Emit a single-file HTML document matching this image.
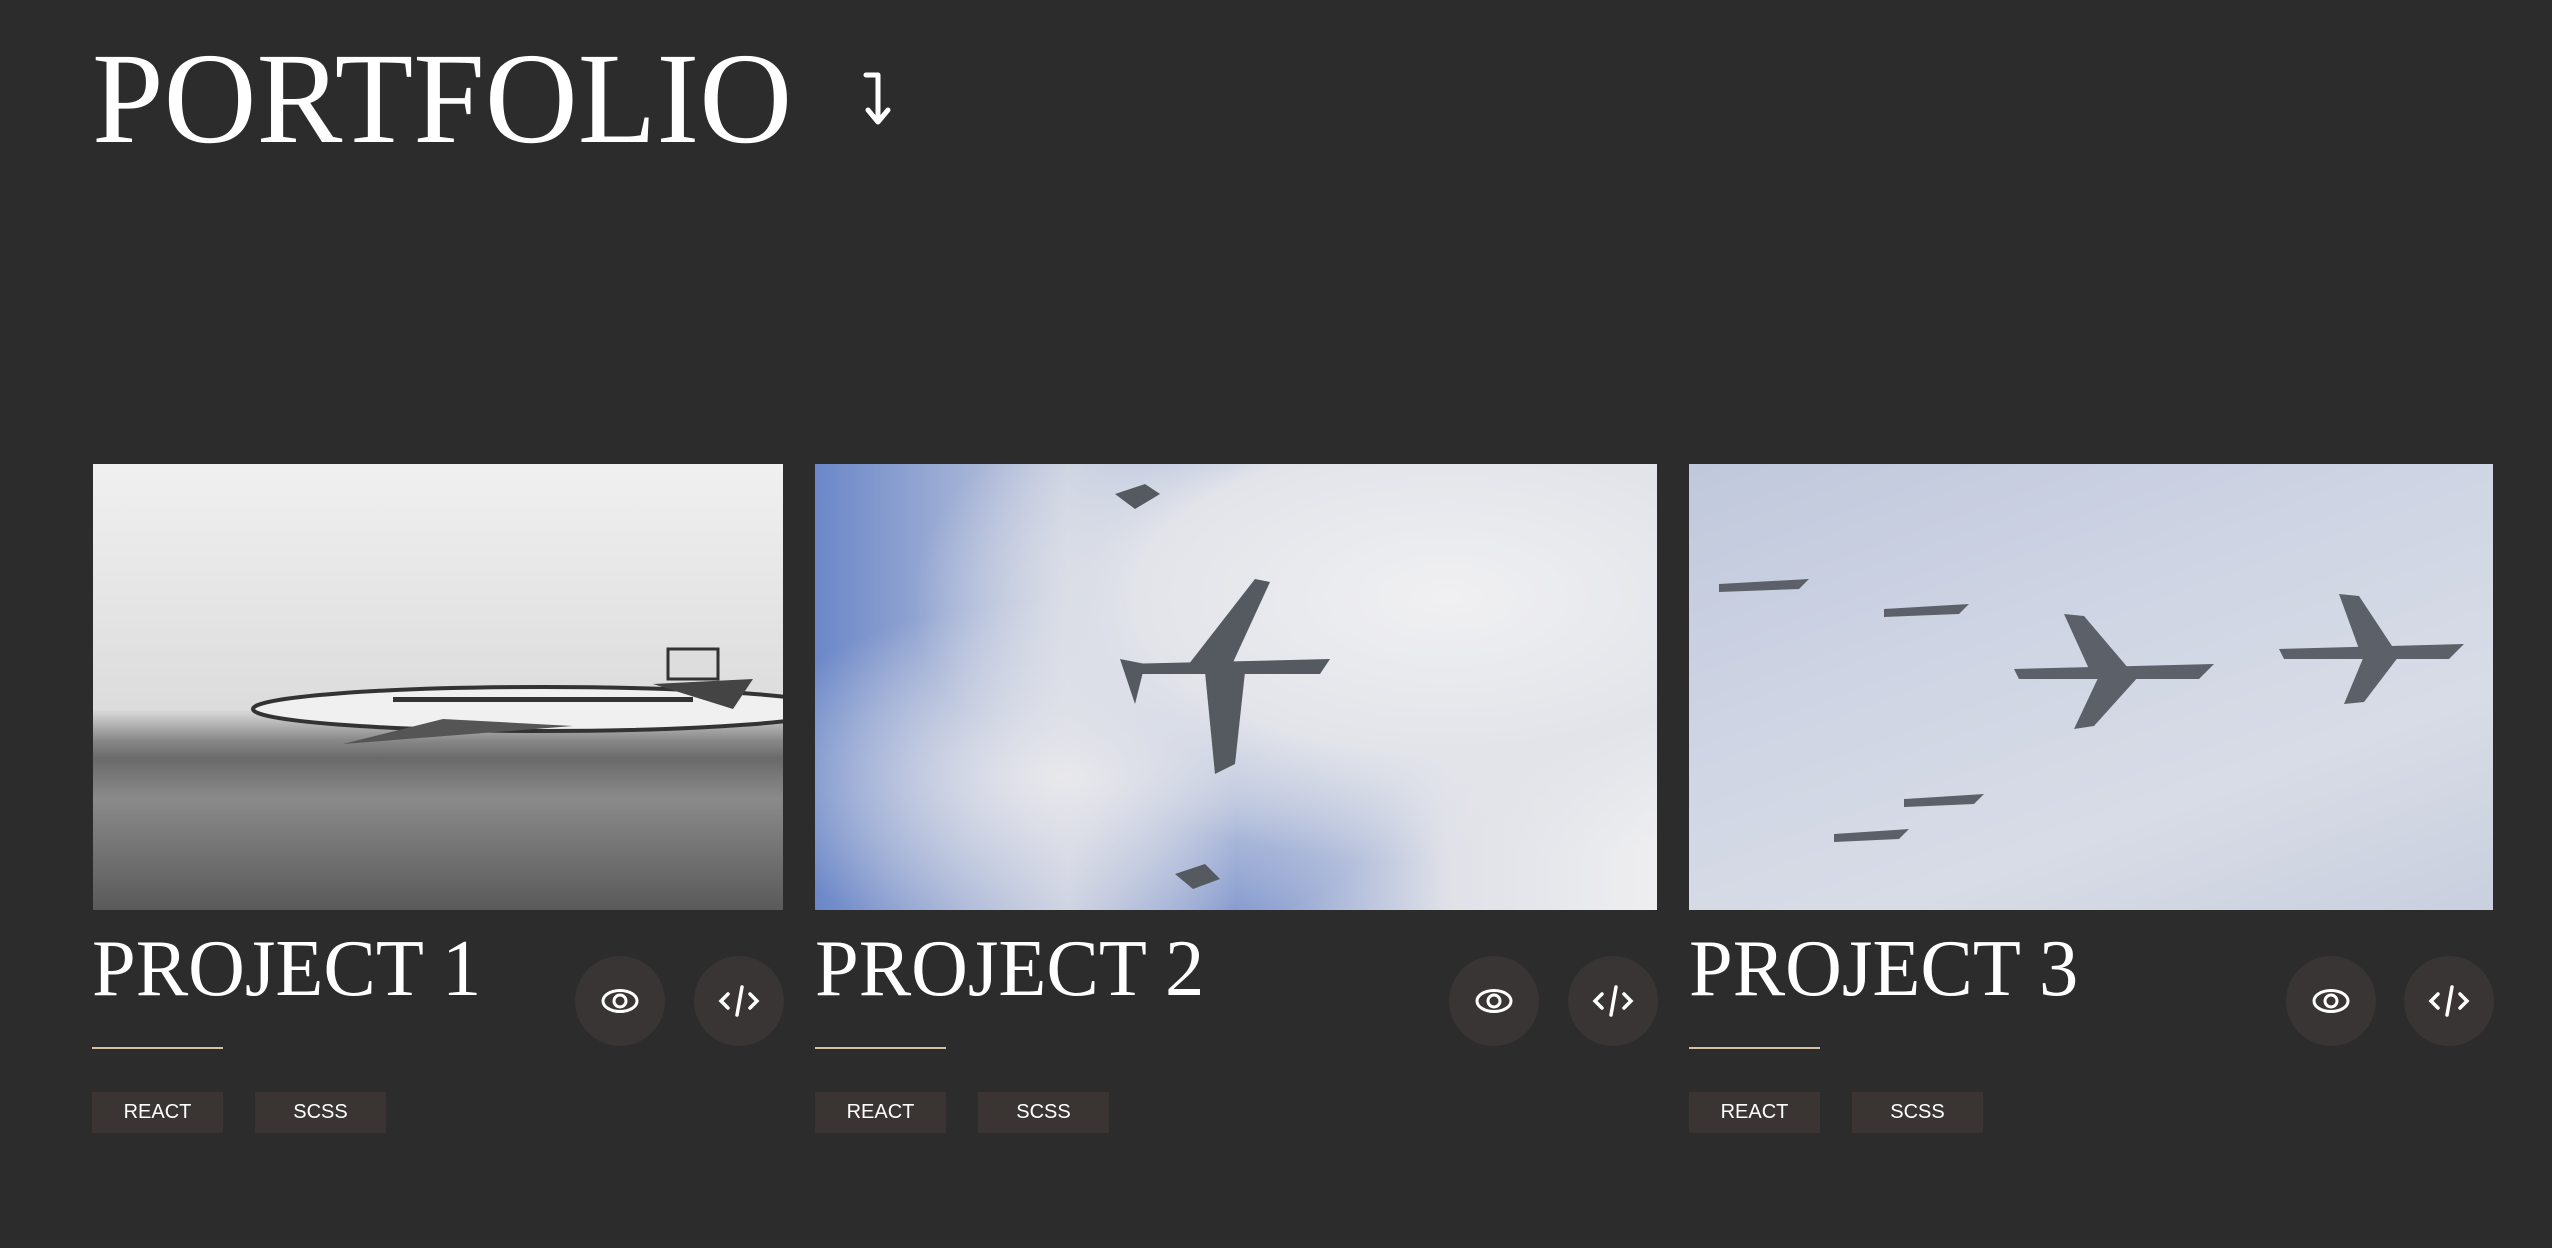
<!DOCTYPE html>
<html><head><meta charset="utf-8"><style>
html,body{margin:0;padding:0;background:#2c2c2c;width:2552px;height:1248px;overflow:hidden;position:relative;font-family:"Liberation Sans",sans-serif}
.abs{position:absolute}
.title{left:92px;top:34px;font-family:"Liberation Serif",serif;font-size:130px;color:#fff;line-height:1;transform:scaleX(0.99);transform-origin:left top;white-space:nowrap}
.img{position:absolute;top:464px;height:446px}
.ptitle{position:absolute;top:928px;font-family:"Liberation Serif",serif;font-size:81px;color:#fff;line-height:1;white-space:nowrap;transform:scaleX(0.97);transform-origin:left top}
.line{position:absolute;top:1047px;width:131px;height:2px;background:#d6bfa3}
.tag{position:absolute;top:1092px;width:131px;height:41px;background:#3a3533;color:#fff;font-size:20px;line-height:41px;text-align:center}
.btn{position:absolute;top:956px;width:90px;height:90px;border-radius:50%;background:#383534;display:flex;align-items:center;justify-content:center}
</style></head><body>
<div class="abs title">PORTFOLIO</div>
<svg class="abs" style="left:858px;top:70px" width="44" height="58"><path d="M8 5 H20 V52 M10 40 L20 52 L30 40" stroke="#fff" stroke-width="5" fill="none" stroke-linecap="round" stroke-linejoin="round"/></svg>

<div class="img" style="left:93px;width:690px;background:linear-gradient(180deg,#f0f0f0 0%,#dcdcdc 55%,#888 62%,#6a6a6a 66%,#8a8a8a 75%,#5a5a5a 100%)">
 <svg width="690" height="446" style="position:absolute;left:0;top:0"><ellipse cx="450" cy="245" rx="290" ry="22" fill="#f0f0f0" stroke="#333" stroke-width="4"/><rect x="300" y="233" width="300" height="5" fill="#333"/><path d="M560 220 L660 215 L640 245 Z" fill="#444"/><path d="M350 255 L250 280 L480 262 Z" fill="#555"/><rect x="575" y="185" width="50" height="30" fill="#ddd" stroke="#333" stroke-width="3"/></svg>
</div>
<div class="img" style="left:815px;width:842px;background:radial-gradient(ellipse at 75% 30%,#f0f0f2 0%,#e2e4ea 35%,rgba(220,222,230,0) 60%),radial-gradient(ellipse at 30% 70%,#e8e8ec 0%,rgba(230,230,235,0) 40%),linear-gradient(90deg,#6b87c8 0%,#c8cedf 30%,#7e95cc 50%,#dfe1e8 75%,#eeeef0 100%)">
 <svg width="842" height="446" style="position:absolute;left:0;top:0"><g fill="#555a60"><path d="M310 200 L515 195 L505 210 L310 210 Z"/><path d="M370 205 L440 115 L455 118 L415 205 Z"/><path d="M390 208 L400 310 L420 300 L430 208 Z"/><path d="M305 195 L320 240 L330 200 Z"/><path d="M300 30 L330 20 L345 30 L320 45 Z"/><path d="M360 410 L390 400 L405 415 L378 425 Z"/></g></svg>
</div>
<div class="img" style="left:1689px;width:804px;background:linear-gradient(160deg,#c0c8dc 0%,#cfd5e4 40%,#d8dce6 70%,#c9cfdf 100%)">
 <svg width="804" height="446" style="position:absolute;left:0;top:0"><g fill="#5c6068"><path d="M325 205 L525 200 L510 215 L330 215 Z"/><path d="M400 205 L375 150 L395 152 L440 205 Z"/><path d="M410 212 L385 265 L405 262 L450 212 Z"/><path d="M590 185 L775 180 L760 195 L595 195 Z"/><path d="M670 185 L650 130 L670 132 L705 185 Z"/><path d="M675 192 L655 240 L675 238 L710 192 Z"/><path d="M30 120 L120 115 L110 125 L30 128 Z"/><path d="M195 145 L280 140 L270 150 L195 153 Z"/><path d="M215 335 L295 330 L285 340 L215 343 Z"/><path d="M145 370 L220 365 L210 375 L145 378 Z"/></g></svg>
</div>

<div class="ptitle" style="left:92px">PROJECT 1</div>
<div class="ptitle" style="left:815px">PROJECT 2</div>
<div class="ptitle" style="left:1689px">PROJECT 3</div>

<div class="line" style="left:92px"></div>
<div class="line" style="left:815px"></div>
<div class="line" style="left:1689px"></div>

<div class="tag" style="left:92px">REACT</div>
<div class="tag" style="left:255px">SCSS</div>
<div class="tag" style="left:815px">REACT</div>
<div class="tag" style="left:978px">SCSS</div>
<div class="tag" style="left:1689px">REACT</div>
<div class="tag" style="left:1852px">SCSS</div>

<div class="btn" style="left:575px"><svg width="38" height="26"><ellipse cx="19" cy="13" rx="17" ry="10.5" fill="none" stroke="#fff" stroke-width="3"/><circle cx="19" cy="13" r="6" fill="none" stroke="#fff" stroke-width="3"/></svg></div>
<div class="btn" style="left:694px"><svg width="42" height="34"><path d="M10 10 L3 17 L10 24 M32 10 L39 17 L32 24 M24 3 L19 31" stroke="#fff" stroke-width="3.5" fill="none" stroke-linecap="round"/></svg></div>
<div class="btn" style="left:1449px"><svg width="38" height="26"><ellipse cx="19" cy="13" rx="17" ry="10.5" fill="none" stroke="#fff" stroke-width="3"/><circle cx="19" cy="13" r="6" fill="none" stroke="#fff" stroke-width="3"/></svg></div>
<div class="btn" style="left:1568px"><svg width="42" height="34"><path d="M10 10 L3 17 L10 24 M32 10 L39 17 L32 24 M24 3 L19 31" stroke="#fff" stroke-width="3.5" fill="none" stroke-linecap="round"/></svg></div>
<div class="btn" style="left:2286px"><svg width="38" height="26"><ellipse cx="19" cy="13" rx="17" ry="10.5" fill="none" stroke="#fff" stroke-width="3"/><circle cx="19" cy="13" r="6" fill="none" stroke="#fff" stroke-width="3"/></svg></div>
<div class="btn" style="left:2404px"><svg width="42" height="34"><path d="M10 10 L3 17 L10 24 M32 10 L39 17 L32 24 M24 3 L19 31" stroke="#fff" stroke-width="3.5" fill="none" stroke-linecap="round"/></svg></div>
</body></html>
